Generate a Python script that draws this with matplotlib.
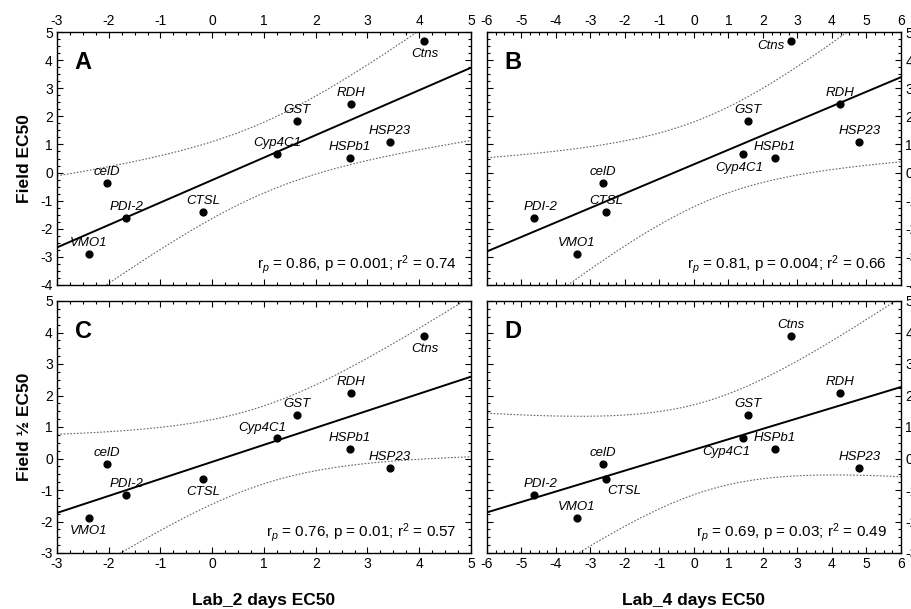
import numpy as np
import matplotlib
matplotlib.use("Agg")
import matplotlib.pyplot as plt
from matplotlib.ticker import MultipleLocator

plt.rcParams['font.family'] = ['Liberation Sans', 'DejaVu Sans']
plt.rcParams['mathtext.fontset'] = 'custom'
plt.rcParams['mathtext.rm'] = 'Liberation Sans'
plt.rcParams['mathtext.it'] = 'Liberation Sans:italic'
plt.rcParams['axes.unicode_minus'] = False

genes = ["Ctns", "RDH", "GST", "HSP23", "Cyp4C1", "HSPb1", "celD", "PDI-2", "CTSL", "VMO1"]
lab_2days = [4.10, 2.69, 1.63, 3.43, 1.26, 2.66, -2.03, -1.66, -0.17, -2.39]
lab_4days = [2.80, 4.23, 1.56, 4.79, 1.41, 2.34, -2.65, -4.64, -2.55, -3.40]
field_ec50 = [4.68, 2.45, 1.82, 1.10, 0.65, 0.51, -0.37, -1.60, -1.41, -2.88]
field_half_ec50 = [3.89, 2.08, 1.37, -0.30, 0.66, 0.29, -0.19, -1.15, -0.66, -1.90]

stats = {
    "A": r"r$_{p}$ = 0.86, p = 0.001; r$^{2}$ = 0.74",
    "B": r"r$_{p}$ = 0.81, p = 0.004; r$^{2}$ = 0.66",
    "C": r"r$_{p}$ = 0.76, p = 0.01; r$^{2}$ = 0.57",
    "D": r"r$_{p}$ = 0.69, p = 0.03; r$^{2}$ = 0.49",
}

# label offsets in pixels (dx, dy, ha)
U = (0, 11, 'center')
Dn = (0, -13, 'center')
offs = {
    "A": {g: U for g in genes} | {"Ctns": Dn},
    "B": {g: U for g in genes} | {"Ctns": (-6, -5, 'right'), "Cyp4C1": (-3, -14, 'center'),
                                   "PDI-2": (7, 11, 'center')},
    "C": {g: U for g in genes} | {"Ctns": Dn, "CTSL": Dn, "VMO1": Dn, "Cyp4C1": (-15, 10, 'center')},
    "D": {g: U for g in genes} | {"Cyp4C1": (-16, -14, 'center'), "CTSL": (18, -12, 'center'),
                                   "PDI-2": (7, 11, 'center')},
}

W, H = 912, 609
fig = plt.figure(figsize=(W / 100, H / 100), dpi=100)

def rect(l, r, t, b):
    return [l / W, 1 - b / H, (r - l) / W, (b - t) / H]

panels = {
    "A": (rect(57, 471, 32, 285), lab_2days, field_ec50, (-3, 5), (-4, 5)),
    "B": (rect(487, 901, 32, 285), lab_4days, field_ec50, (-6, 6), (-4, 5)),
    "C": (rect(57, 471, 301, 553), lab_2days, field_half_ec50, (-3, 5), (-3, 5)),
    "D": (rect(487, 901, 301, 553), lab_4days, field_half_ec50, (-6, 6), (-3, 5)),
}

T_CRIT = 3.355  # t(0.995, df=8): 99% confidence band

for key, (pos, xs, ys, xl, yl) in panels.items():
    ax = fig.add_axes(pos)
    x = np.array(xs); y = np.array(ys)
    n = len(x)
    b, a = np.polyfit(x, y, 1)
    xx = np.linspace(xl[0], xl[1], 300)
    yy = a + b * xx
    resid = y - (a + b * x)
    s = np.sqrt(np.sum(resid ** 2) / (n - 2))
    se = s * np.sqrt(1 / n + (xx - x.mean()) ** 2 / np.sum((x - x.mean()) ** 2))
    ax.plot(xx, yy, color='black', lw=1.4, zorder=2)
    ax.plot(xx, yy + T_CRIT * se, color='#666666', lw=0.8, ls=(0, (1.5, 1.5)), zorder=1)
    ax.plot(xx, yy - T_CRIT * se, color='#666666', lw=0.8, ls=(0, (1.5, 1.5)), zorder=1)
    ax.scatter(x, y, s=24, color='black', zorder=3)
    for g, xi, yi in zip(genes, xs, ys):
        dx, dy, ha = offs[key][g]
        ax.annotate(g, (xi, yi), xytext=(dx, dy), textcoords='offset pixels',
                    ha=ha, va='center', fontsize=9.5, style='italic', zorder=4)
    ax.set_xlim(*xl); ax.set_ylim(*yl)
    ax.xaxis.set_major_locator(MultipleLocator(1))
    ax.yaxis.set_major_locator(MultipleLocator(1))
    ax.xaxis.set_minor_locator(MultipleLocator(0.25))
    ax.yaxis.set_minor_locator(MultipleLocator(0.25))
    top = key in ("A", "B")
    right = key in ("B", "D")
    ax.tick_params(which='both', direction='in', top=True, right=True, bottom=True, left=True,
                   labeltop=top, labelbottom=not top, labelleft=not right, labelright=right,
                   labelsize=10, width=0.8)
    ax.tick_params(which='major', length=4, pad=3)
    ax.tick_params(which='minor', length=2)
    for sp in ax.spines.values():
        sp.set_linewidth(1.0)
    ax.text(0.063, 0.88, key, transform=ax.transAxes, fontsize=17, fontweight='bold',
            ha='center', va='center')
    ax.text(0.965, 0.08, stats[key], transform=ax.transAxes, fontsize=11, ha='right', va='center')
    if key == "A":
        ax.set_ylabel("Field EC50", fontsize=12.5, fontweight='bold', labelpad=6)
    if key == "C":
        ax.set_ylabel("Field \u00bd EC50", fontsize=12.5, fontweight='bold', labelpad=6)
        ax.set_xlabel("Lab_2 days EC50", fontsize=12.5, fontweight='bold', labelpad=16)
    if key == "D":
        ax.set_xlabel("Lab_4 days EC50", fontsize=12.5, fontweight='bold', labelpad=16)

fig.savefig("out.png", dpi=100)
